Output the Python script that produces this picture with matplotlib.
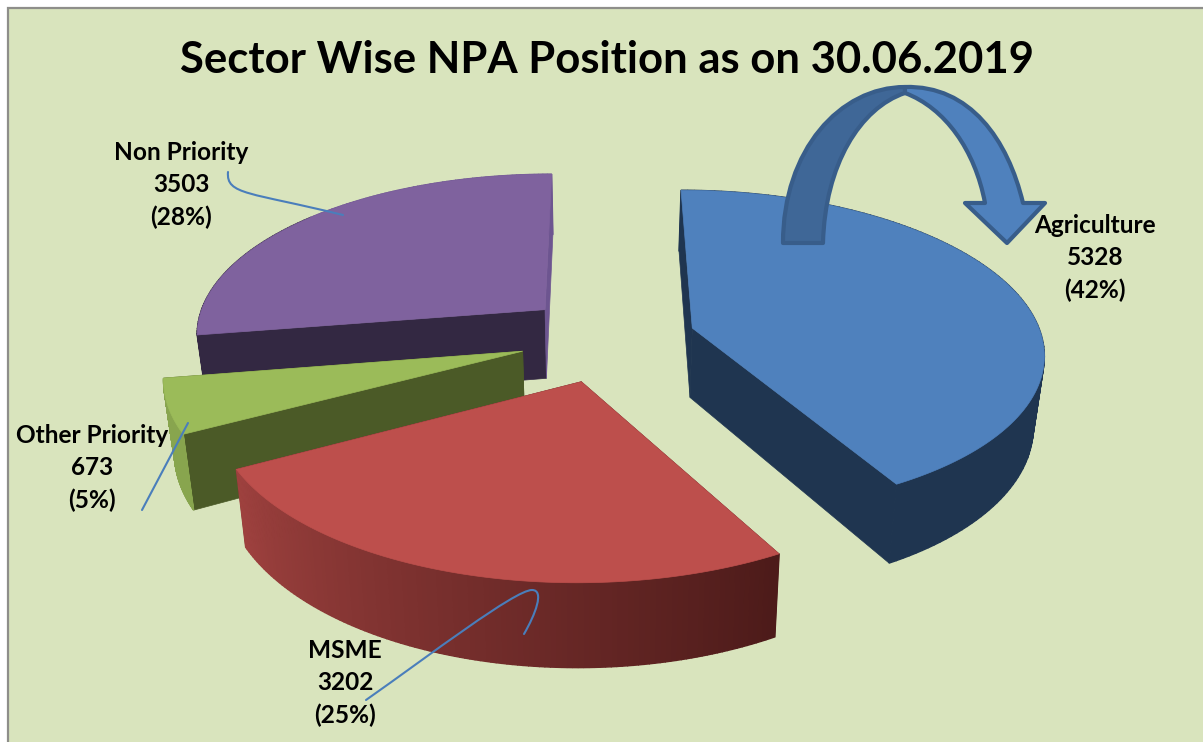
""" Sector wise NPA position, exploded 3D pie drawn with plain polygons """

import numpy as np
import matplotlib
matplotlib.use("Agg")
import matplotlib.pyplot as plt
from matplotlib.patches import PathPatch, Polygon, Rectangle
from matplotlib.path import Path

plt.rcParams['font.family'] = ['Lato', 'DejaVu Sans']

title = "Sector Wise NPA Position as on 30.06.2019"
sectors = ["Agriculture", "MSME", "Other Priority", "Non Priority"]
values = [5328, 3202, 673, 3503]

explode = [0.275, 0.262, 0.234, 0.21]
nudge = [(0, 0), (8, 1), (1, 0), (0, -8)]
top_col = ["#4f81bd", "#bd4f4c", "#9bbb59", "#7f629e"]
side_col = ["#1f3550", "#4b2020", "#4b5a27", "#332842"]
wall_col = ["#1f3550", None, "#88a54e", "#332842"]
label_pos = [(1095, 258), (345, 683), (92, 468), (181, 185)]
draw_order = [3, 2, 1, 0]

# projection of the pie plane on to the picture
X0, Y0 = 600, 339
SX, SY = 350, 160
PERSP = 0.14
DEPTH = 70
SHRINK = 0.025


def project(u, v, down=0.0):
    d = 1 / (1 - PERSP * v)
    return X0 + SX * u * d * (1 - SHRINK * down), Y0 + SY * v * d + down * DEPTH * d


def rim(ax_u, ax_v, a, b, n=120, down=0.0):
    t = np.radians(np.linspace(a, b, n))
    return project(ax_u + np.sin(t), ax_v - np.cos(t), down)


def curve(ax, pts, codes, **kw):
    ax.add_patch(PathPatch(Path(pts, codes), **kw))


def shifted(x, y, i):
    return np.asarray(x) + nudge[i][0], np.asarray(y) + nudge[i][1]


fig = plt.figure(figsize=(12.03, 7.42), dpi=100, facecolor="white")
ax = fig.add_axes([0, 0, 1, 1])
ax.set_xlim(0, 1203)
ax.set_ylim(742, 0)
ax.axis("off")
ax.add_patch(Rectangle((7.5, 8), 1300, 800, facecolor="#d9e4bd", edgecolor="#8e8e8a", lw=1.6))

total = sum(values)
sweep = np.cumsum([0] + [x / total * 360 for x in values])

for i in draw_order:
    a, b = sweep[i], sweep[i + 1]
    mid = np.radians((a + b) / 2)
    cu, cv = explode[i] * np.sin(mid), -explode[i] * np.cos(mid)

    # the two cut faces
    for ang in (a, b):
        t = np.radians(ang)
        eu, ev = cu + np.sin(t), cv - np.cos(t)
        fx, fy = zip(project(cu, cv), project(eu, ev), project(eu, ev, 1), project(cu, cv, 1))
        fx, fy = shifted(fx, fy, i)
        col = side_col[i]
        if i == 3 and ang == b:
            col = "#6d5590"
        ax.add_patch(Polygon(np.column_stack([fx, fy]), closed=True, facecolor=col, edgecolor=col, lw=0.5))

    # outer wall, in strips so the red one can shade
    tx, ty = shifted(*rim(cu, cv, a, b), i)
    bx, by = shifted(*rim(cu, cv, a, b, down=1), i)
    for k in range(len(tx) - 1):
        f = k / (len(tx) - 2)
        if wall_col[i] is None:
            col = np.array([0.30, 0.105, 0.10]) * (1 - f) + np.array([0.62, 0.255, 0.245]) * f
        elif i == 3 and f > 0.5:
            # back of the purple slice, only a sliver shows next to the cut face
            col = "#6d5590"
        else:
            col = wall_col[i]
        quad = [(tx[k], ty[k]), (tx[k + 1], ty[k + 1]), (bx[k + 1], by[k + 1]), (bx[k], by[k])]
        ax.add_patch(Polygon(quad, closed=True, facecolor=col, edgecolor=col, lw=1.0))

    # top
    ox, oy = shifted(*project(cu, cv), i)
    pts = [(ox, oy)] + list(zip(tx, ty))
    ax.add_patch(Polygon(pts, closed=True, facecolor=top_col[i], edgecolor=top_col[i], lw=0.5))

# curved arrow over the Agriculture slice
arrow_edge = "#385d8a"
M, C, L, Z = Path.MOVETO, Path.CURVE4, Path.LINETO, Path.CLOSEPOLY
curve(ax,
      [(783, 243), (783, 150), (840, 87), (905, 87), (905, 93), (860, 108), (825, 165), (823, 243), (783, 243)],
      [M, C, C, C, L, C, C, C, Z], facecolor="#3f6797", edgecolor=arrow_edge, lw=3, joinstyle="round", zorder=5)
curve(ax,
      [(905, 87), (970, 85), (1008, 140), (1023, 203), (1045, 203), (1007, 243), (965, 203), (985, 203),
       (975, 150), (945, 108), (905, 93), (905, 87)],
      [M, C, C, C, L, L, L, L, C, C, C, Z], facecolor="#4f81bd", edgecolor=arrow_edge, lw=3,
      joinstyle="round", zorder=5)

# hand drawn leader lines
lead = dict(facecolor="none", edgecolor="#4a7ebb", lw=1.5, zorder=6, capstyle="round")
curve(ax, [(228, 172), (226, 195), (250, 192), (343, 215)], [M, C, C, C], **lead)
curve(ax, [(188, 423), (142, 510)], [M, L], **lead)
curve(ax, [(366, 700), (430, 655), (515, 590), (532, 590), (545, 590), (535, 615), (524, 634)],
      [M, C, C, C, C, C, C], **lead)

ax.text(607, 60, title, fontsize=31.4, fontweight="bold", ha="center", va="center", color="black", zorder=7)
for name, val, pos in zip(sectors, values, label_pos):
    txt = f"{name}\n{val}\n({round(val / total * 100)}%)"
    ax.text(pos[0], pos[1], txt, fontsize=17.6, fontweight="bold", ha="center", va="center",
            multialignment="center", linespacing=1.5, color="black", zorder=7)

fig.savefig("out.png", dpi=100)
